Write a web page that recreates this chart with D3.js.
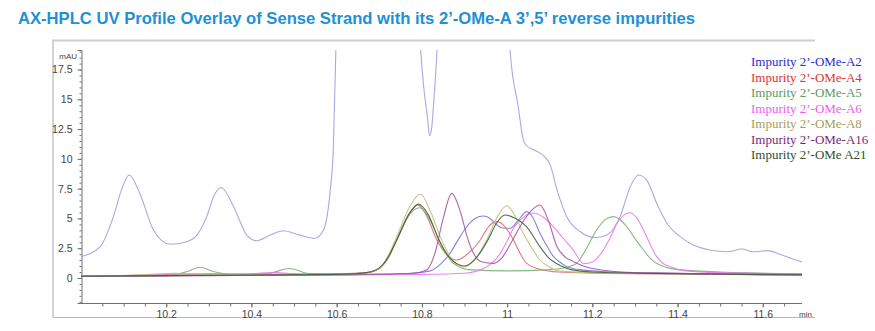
<!DOCTYPE html>
<html><head><meta charset="utf-8">
<script src="https://cdn.jsdelivr.net/npm/d3@7"></script>
<style>body{margin:0;background:#fff}</style>
</head><body>
<svg id="chart" width="875" height="331"></svg>
<script>
const titleText = "AX-HPLC UV Profile Overlay of Sense Strand with its 2\u2019-OMe-A 3\u2019,5\u2019 reverse impurities";
const xMajorTicks = [10.2, 10.4, 10.6, 10.8, 11.0, 11.2, 11.4, 11.6];
const yMajorTicks = [0, 2.5, 5, 7.5, 10, 12.5, 15, 17.5];
const seriesNames = ["Impurity 2\u2019-OMe-A2","Impurity 2\u2019-OMe-A4","Impurity 2\u2019-OMe-A5","Impurity 2\u2019-OMe-A6","Impurity 2\u2019-OMe-A8","Impurity 2\u2019-OMe-A16","Impurity 2\u2019-OMe A21"];

// [time (min), mAU]
const senseStrand = [[10.00,1.79],[10.045,2.63],[10.076,5.15],[10.095,7.4],[10.113,8.65],[10.138,7.1],[10.17,4.03],[10.209,2.83],[10.248,3.05],[10.272,3.6],[10.295,5.15],[10.312,6.9],[10.329,7.6],[10.358,6.0],[10.389,3.6],[10.412,3.13],[10.444,3.6],[10.475,3.97],[10.514,3.6],[10.549,3.33],[10.569,4.03],[10.585,7.4],[10.592,10.7],[10.60,22],[10.65,60],[10.72,80],[10.78,40],[10.796,20],[10.805,15.8],[10.813,13.5],[10.818,11.95],[10.823,12.6],[10.827,14.4],[10.836,19.5],[10.85,35],[10.92,70],[10.99,35],[11.007,19.1],[11.026,14.4],[11.038,11.6],[11.046,11.1],[11.06,10.8],[11.077,10.5],[11.09,10.1],[11.10,9.6],[11.117,7.4],[11.14,5.15],[11.171,3.9],[11.195,3.45],[11.21,3.4],[11.234,3.6],[11.265,5.15],[11.289,7.66],[11.308,8.65],[11.328,8.2],[11.351,6.27],[11.375,4.6],[11.406,3.47],[11.437,2.77],[11.476,2.35],[11.516,2.2],[11.551,2.43],[11.578,2.2],[11.61,2.3],[11.64,2.0],[11.67,1.6],[11.692,1.35]];
const impA2 = [[10.0,0.15],[10.2,0.2],[10.4,0.25],[10.6,0.3],[10.75,0.35],[10.82,0.6],[10.845,1.2],[10.866,2.07],[10.885,3.2],[10.905,4.3],[10.925,5.0],[10.944,5.2],[10.96,5.0],[10.976,4.45],[10.99,4.2],[11.007,4.17],[11.025,4.8],[11.046,5.57],[11.06,5.1],[11.077,3.75],[11.093,2.7],[11.109,1.79],[11.125,1.3],[11.14,0.95],[11.17,0.7],[11.25,0.5],[11.4,0.4],[11.55,0.3],[11.692,0.25]];
const impA4 = [[10.0,0.15],[10.15,0.25],[10.3,0.35],[10.45,0.3],[10.6,0.35],[10.67,0.45],[10.694,0.67],[10.72,1.6],[10.741,3.19],[10.765,5.0],[10.79,6.13],[10.81,5.3],[10.835,3.19],[10.86,1.9],[10.882,1.51],[10.91,2.1],[10.937,3.19],[10.956,4.3],[10.976,4.73],[10.995,4.3],[11.015,3.19],[11.03,2.1],[11.046,1.23],[11.077,0.73],[11.12,0.5],[11.3,0.35],[11.5,0.3],[11.692,0.25]];
const impA5 = [[10.0,0.15],[10.2,0.2],[10.25,0.55],[10.279,0.9],[10.31,0.55],[10.36,0.3],[10.44,0.4],[10.49,0.8],[10.53,0.4],[10.6,0.3],[10.67,0.45],[10.70,0.8],[10.741,3.2],[10.77,5.3],[10.795,5.9],[10.82,4.8],[10.845,2.8],[10.875,1.2],[10.91,0.7],[11.0,0.6],[11.1,0.7],[11.14,0.9],[11.163,1.23],[11.185,2.4],[11.21,4.03],[11.23,4.9],[11.25,5.15],[11.281,4.3],[11.3,3.3],[11.32,2.35],[11.34,1.5],[11.359,1.09],[11.40,0.7],[11.5,0.5],[11.6,0.4],[11.692,0.3]];
const impA6 = [[10.0,0.15],[10.15,0.2],[10.22,0.4],[10.3,0.25],[10.38,0.3],[10.45,0.45],[10.52,0.3],[10.6,0.25],[10.8,0.3],[10.9,0.4],[10.95,0.9],[10.984,2.07],[11.0,3.1],[11.015,4.17],[11.035,5.0],[11.06,5.45],[11.085,5.1],[11.109,4.3],[11.13,3.4],[11.156,2.3],[11.18,1.2],[11.20,1.35],[11.226,2.35],[11.242,3.4],[11.258,4.6],[11.275,5.3],[11.289,5.48],[11.305,5.0],[11.32,4.03],[11.336,2.8],[11.351,1.79],[11.367,1.2],[11.383,0.95],[11.42,0.6],[11.5,0.45],[11.6,0.4],[11.692,0.35]];
const impA8 = [[10.0,0.15],[10.1,0.2],[10.2,0.35],[10.3,0.3],[10.4,0.25],[10.6,0.3],[10.67,0.45],[10.70,0.8],[10.72,1.8],[10.741,3.47],[10.77,5.9],[10.796,7.05],[10.82,5.6],[10.843,3.47],[10.87,1.6],[10.897,0.9],[10.925,1.6],[10.952,3.19],[10.975,5.0],[10.999,6.07],[11.02,5.1],[11.038,3.75],[11.06,2.4],[11.077,1.51],[11.1,0.9],[11.12,0.6],[11.2,0.45],[11.4,0.35],[11.692,0.3]];
const impA16 = [[10.0,0.15],[10.3,0.2],[10.6,0.25],[10.78,0.4],[10.811,0.67],[10.83,2.0],[10.85,5.0],[10.87,7.1],[10.89,5.6],[10.905,3.6],[10.921,2.07],[10.94,1.37],[10.968,1.23],[10.99,1.8],[11.01,3.0],[11.035,4.6],[11.058,5.7],[11.077,6.13],[11.097,4.8],[11.117,2.63],[11.135,1.8],[11.156,1.37],[11.2,0.8],[11.3,0.45],[11.5,0.35],[11.692,0.3]];
const impA21 = [[10.0,0.15],[10.2,0.2],[10.4,0.25],[10.6,0.3],[10.67,0.45],[10.70,0.85],[10.72,1.7],[10.741,3.2],[10.77,5.4],[10.792,6.2],[10.815,5.3],[10.84,3.2],[10.865,1.7],[10.90,1.0],[10.93,1.8],[10.955,3.2],[10.975,4.6],[10.995,5.29],[11.02,5.0],[11.046,4.3],[11.077,2.63],[11.1,1.6],[11.117,1.2],[11.15,0.7],[11.2,0.5],[11.4,0.35],[11.692,0.25]];

const impurities = [impA2, impA4, impA5, impA6, impA8, impA16, impA21];
const lineColors = ["#7a78d6","#e46a6a","#76b276","#ec78ec","#bcc278","#a455a4","#3f5f3f"];
const legendColors = ["#2b2bd0","#e03333","#5c9a5c","#f05cf0","#a3a060","#7d1f7d","#2f4f2f"];

const svg = d3.select("#chart");
const x = d3.scaleLinear().domain([10.0, 11.692]).range([81, 802]);
const y = d3.scaleLinear().domain([-2.1, 19.14]).range([303, 50]);

// frame
svg.append("path").attr("d","M53,317.5 L53,40.5 L815,40.5").attr("fill","none").attr("stroke","#cfcfcf").attr("stroke-width",1.8);
svg.append("line").attr("x1",53).attr("x2",815).attr("y1",317.5).attr("y2",317.5).attr("stroke","#b8b8b8").attr("stroke-width",1.2);

// title
svg.append("text").attr("x",18).attr("y",24).text(titleText)
  .attr("font-family","Liberation Sans, Arial, sans-serif").attr("font-weight","bold").attr("font-size",17)
  .attr("fill","#1f8fd6").attr("textLength",677).attr("lengthAdjust","spacingAndGlyphs");

// y axis
const yAxisMinor = d3.axisLeft(y).tickValues(d3.range(-2, 19.01, 0.5)).tickSize(2).tickFormat("");
const gyMinor = svg.append("g").attr("transform","translate(81.5,0)").call(yAxisMinor);
const yAxis = d3.axisLeft(y).tickValues(yMajorTicks).tickSize(4).tickPadding(5).tickFormat(d3.format("~g"));
const gy = svg.append("g").attr("transform","translate(81.5,0)").call(yAxis);
[gy, gyMinor].forEach(g => {
  g.select(".domain").attr("stroke","#707070");
  g.selectAll(".tick line").attr("stroke","#707070");
});
gyMinor.select(".domain").remove();
gy.selectAll(".tick text").attr("font-family","Liberation Sans, Arial, sans-serif").attr("font-size",10.5).attr("fill","#444");
svg.append("text").attr("x",77).attr("y",59).attr("text-anchor","end").text("mAU").attr("font-family","Liberation Sans, Arial, sans-serif").attr("font-size",8).attr("fill","#444");

// x axis
const xAxisMinor = d3.axisBottom(x).tickValues(d3.range(10.05, 11.70, 0.05)).tickSize(3).tickFormat("");
const gxMinor = svg.append("g").attr("transform","translate(0,303.5)").call(xAxisMinor);
const xAxis = d3.axisBottom(x).tickValues(xMajorTicks).tickSize(4).tickPadding(3).tickFormat(d3.format("~g"));
const gx = svg.append("g").attr("transform","translate(0,303.5)").call(xAxis);
[gx, gxMinor].forEach(g => {
  g.select(".domain").attr("stroke","#707070");
  g.selectAll(".tick line").attr("stroke","#707070");
});
gxMinor.select(".domain").remove();
gx.select(".domain").attr("d","M81,0H802");
gx.selectAll(".tick text").attr("font-family","Liberation Sans, Arial, sans-serif").attr("font-size",10.5).attr("fill","#444");
svg.append("text").attr("x",799).attr("y",317).text("min").attr("font-family","Liberation Sans, Arial, sans-serif").attr("font-size",8).attr("fill","#444");

// clip
svg.append("clipPath").attr("id","plotclip").append("rect").attr("x",81).attr("y",50).attr("width",722).attr("height",253);
const plot = svg.append("g").attr("clip-path","url(#plotclip)");
const line = d3.line().x(d => x(d[0])).y(d => y(d[1])).curve(d3.curveMonotoneX);

plot.append("path").datum(senseStrand).attr("d",line).attr("fill","none").attr("stroke","#a9a8e6").attr("stroke-width",1.1);
impurities.forEach((s,i) => {
  plot.append("path").datum(s).attr("d",line).attr("fill","none").attr("stroke",lineColors[i]).attr("stroke-width",1.1).attr("stroke-opacity",0.9);
});

// legend
const lg = svg.append("g");
seriesNames.forEach((n,i) => {
  lg.append("text").attr("x",751).attr("y",66 + i*15.5).text(n)
    .attr("font-family","Liberation Serif, Times New Roman, serif").attr("font-size",13).attr("fill",legendColors[i]);
});
</script>
</body></html>
